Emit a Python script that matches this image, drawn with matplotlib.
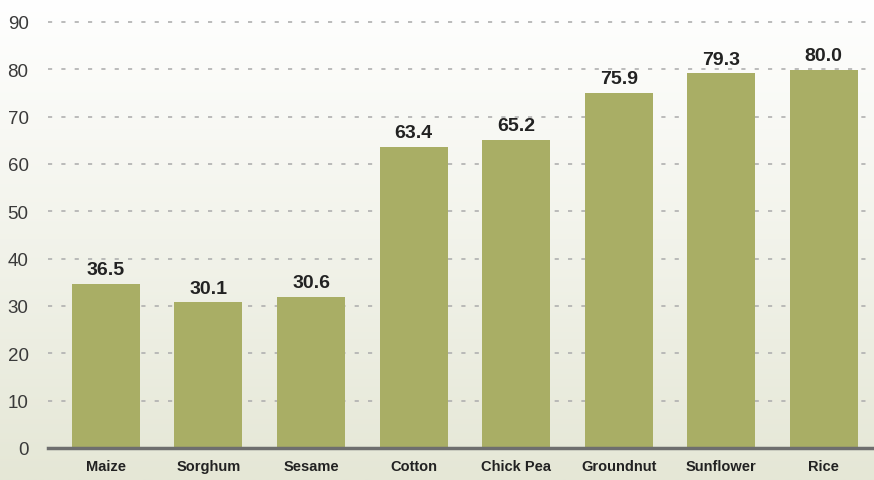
import numpy as np
import matplotlib.pyplot as plt

crops = ["Maize", "Sorghum", "Sesame", "Cotton", "Chick Pea", "Groundnut", "Sunflower", "Rice"]
# bar heights as drawn in the picture
heights = [34.7, 30.8, 31.9, 63.6, 65.1, 75.1, 79.2, 79.9]
# value labels as printed above the bars
value_labels = ["36.5", "30.1", "30.6", "63.4", "65.2", "75.9", "79.3", "80.0"]
yticks = [0, 10, 20, 30, 40, 50, 60, 70, 80, 90]

BAR_COLOR = "#a9ae65"

fig = plt.figure(figsize=(8.74, 4.81), dpi=100)

# background gradient, white at top to pale olive at bottom
bg = fig.add_axes([0, 0, 1, 1], zorder=-1)
grad = np.linspace(0, 1, 256).reshape(-1, 1)
top = np.array([1.0, 1.0, 1.0])
bottom = np.array([0xe5, 0xe7, 0xd6]) / 255
img = top + (bottom - top) * grad[..., None]
bg.imshow(img, aspect="auto", extent=[0, 1, 0, 1])
bg.axis("off")

ax = fig.add_axes([48 / 874, 32 / 481, 1 - 48 / 874, 444 / 481])
ax.set_facecolor("none")

x = np.arange(len(crops))
ax.bar(x, heights, width=0.663, color=BAR_COLOR, zorder=3)

for xi, h, lab in zip(x, heights, value_labels):
    ax.annotate(lab, (xi, h), xytext=(0, 4), textcoords="offset points",
                ha="center", va="bottom", fontsize=14, fontweight="bold",
                color="#222222", family=["Liberation Sans", "DejaVu Sans"])

ax.set_xlim(-0.565, 7.49)
ax.set_ylim(0, 93.8)
ax.set_yticks(yticks)
ax.set_yticklabels([str(t) for t in yticks], fontsize=13.5, color="#3a3a3a",
                   family=["Liberation Sans", "DejaVu Sans"])
ax.set_xticks(x)
ax.set_xticklabels(crops, fontsize=10.5, fontweight="bold", color="#222222",
                   family=["Liberation Sans Narrow", "Liberation Sans", "DejaVu Sans"])
ax.tick_params(axis="both", length=0)
ax.tick_params(axis="y", pad=14)
ax.tick_params(axis="x", pad=8)

ax.yaxis.grid(True, color="#b0b0b0", linestyle=(0, (2.5, 5.5)), linewidth=1.2, zorder=1)
for side in ["top", "right", "left"]:
    ax.spines[side].set_visible(False)
ax.spines["bottom"].set_color("#6e6e6e")
ax.spines["bottom"].set_linewidth(2.5)
ax.spines["bottom"].set_zorder(4)

plt.savefig("out.png", dpi=100)
